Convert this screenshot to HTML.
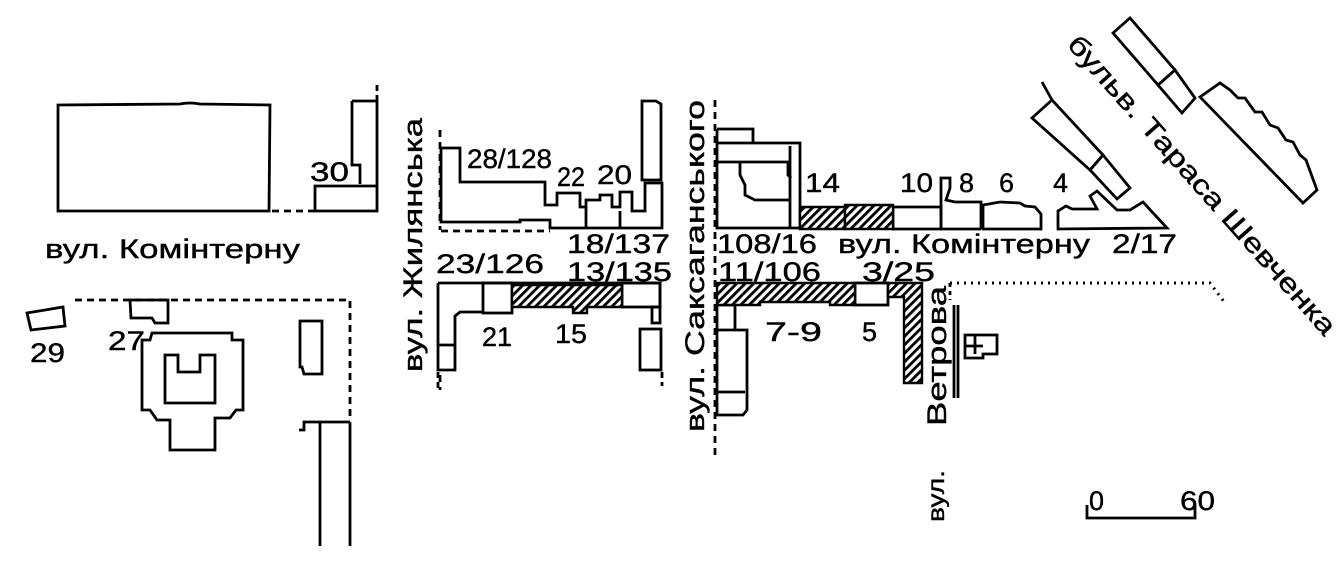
<!DOCTYPE html>
<html><head><meta charset="utf-8"><style>
html,body{margin:0;padding:0;background:#fff;}
svg{display:block;}
text{font-family:"Liberation Sans","DejaVu Sans",sans-serif;fill:#000;stroke:#000;stroke-width:0.4;}
</style></head><body>
<svg width="1341" height="566" viewBox="0 0 1341 566" xmlns="http://www.w3.org/2000/svg">
<defs>
<pattern id="h" patternUnits="userSpaceOnUse" width="6" height="6" patternTransform="rotate(45)">
<rect width="6" height="6" fill="#fff"/><rect width="2.8" height="6" fill="#000"/></pattern>
</defs>
<g fill="none" stroke="#000" stroke-width="2.8" stroke-linejoin="miter">
<path d="M58,105 L180,104 Q190,102 200,104 L270,105 L269,211 L58,211 Z"/>
<path d="M272,211 H315" stroke-dasharray="7,5"/>
<path d="M352,101 H377 V211 H315 V186 H377 M352,101 V165 H360 V184"/>
<path d="M377,85 V100" stroke-dasharray="6,4"/>
<path d="M75,300 H350 V420" stroke-dasharray="7,5"/>
<path d="M27,313 L63,307 L65,326 L31,330 Z"/>
<path d="M130,300 H168 V323 H155 L152,318 H131 Z"/>
<path d="M152,333 H232 V340 H243 V410 H236 L230,418 H215 V450 H170 V420 H157 L150,410 H142 V340 H150 Z"/>
<path d="M165,355 H178 V372 H200 V355 H215 V403 H165 Z"/>
<path d="M300,321 H322 V374 H304 L302,367 H300 Z"/>
<path d="M299,430 H304 V422 H350 M320,422 V546 M350,422 V546"/>
<path d="M440,130 V230 M440,375 V390" stroke-dasharray="7,5"/>
<path d="M441,148 H460 V182 H545 V205 H557 V193 H580 V207 H586 V200 H600 V195 H612 V207 H620 V192 H632 V211 H645 V183 H662 V228 H550 V220 H520 V222 H441 Z"/>
<path d="M586,207 V228 M620,211 V228"/>
<path d="M441,231 H550" stroke-dasharray="7,5"/>
<path d="M642,101 H656 L661,104 V180 H642 Z"/>
<path d="M438,283 H660 V307 H652"/>
<path d="M438,283 V370 H455 V316 L460,312 H483"/>
<path d="M438,345 H455"/>
<rect x="483" y="283" width="29" height="30"/>
<rect x="622" y="283" width="38" height="24"/>
<rect x="652" y="307" width="8" height="16"/>
<rect x="640" y="329" width="21" height="41"/>
<path d="M438,372 V390 M662,372 V386" stroke-dasharray="6,4"/>
<path d="M715,100 V456" stroke-dasharray="7,5"/>
<path d="M717,129 H753 V143 M717,129 V228 H800 V143 H717"/>
<path d="M790,146 V228"/>
<path d="M717,162 H740 V175 L745,185 V195 L755,200 H790 M740,162 H788 V175 L791,178"/>
<path d="M893,207 V229 H941 V207 Z"/>
<path d="M941,229 V178 H950 V188 L946,200 L955,202 H981 V229 M981,229 H941"/>
<path d="M983,229 V205 L1000,202 L1020,203 L1025,206 L1035,207 L1041,214 V229 Z"/>
<path d="M1058,229 V211 L1066,206 L1072,209 H1097 L1090,196 L1097,191 L1117,210 H1130 L1143,202 L1167,228 Z"/>
<rect x="855" y="283" width="33" height="22"/>
<path d="M717,305 H735 V330 H747 V410 L743,415 H717 Z M735,330 H717 M717,392 H745"/>
<path d="M950,283 V300" stroke-dasharray="4,4"/>
<path d="M950,283 H1210 L1225,303" stroke-dasharray="2,5" stroke-width="3"/>
<path d="M954,305 V398 M958,305 V398"/>
<path d="M965,335 H997 V354 H983 V358 H965 Z M965,346 H983 M975,335 V354"/>
<path d="M1113,33 L1130,18 L1175,70 L1158,85 Z"/>
<path d="M1158,85 L1175,70 L1195,98 L1182,113 Z"/>
<path d="M1200,97 L1220,83 L1230,90 L1238,98 L1245,98 L1255,112 L1262,112 L1270,125 L1278,128 L1286,140 L1293,142 L1300,155 L1306,160 L1317,190 L1303,203 Z"/>
<path d="M1032,118 L1052,100 L1103,155 L1090,170 Z"/>
<path d="M1090,170 L1103,155 L1130,188 L1117,199 Z"/>
<path d="M1042,82 L1052,100"/>
<path d="M1087,505 V518 H1195 V505"/>
</g>
<g stroke="#000" stroke-width="2.4" fill="url(#h)">
<path d="M512,285 H622 V307 H587 V313 H573 V307 H512 Z"/>
<path d="M800,207 H845 V229 H800 Z"/>
<path d="M845,205 H893 V229 H845 Z"/>
<path d="M717,283 H855 V305 H830 V302 H760 V305 H717 Z"/>
<path d="M888,283 H922 V383 H904 V297 H888 Z"/>
</g>
<g font-size="27">
<text x="45" y="258" textLength="255" lengthAdjust="spacingAndGlyphs">вул. Комінтерну</text>
<text x="310" y="181" textLength="39" lengthAdjust="spacingAndGlyphs">30</text>
<text x="30" y="362" textLength="35" lengthAdjust="spacingAndGlyphs">29</text>
<text x="108" y="350" textLength="37" lengthAdjust="spacingAndGlyphs">27</text>
<text x="467" y="168" textLength="85" lengthAdjust="spacingAndGlyphs">28/128</text>
<text x="557" y="186" textLength="28" lengthAdjust="spacingAndGlyphs">22</text>
<text x="597" y="184" textLength="35" lengthAdjust="spacingAndGlyphs">20</text>
<text x="567" y="253" textLength="103" lengthAdjust="spacingAndGlyphs">18/137</text>
<text x="436" y="273" textLength="108" lengthAdjust="spacingAndGlyphs">23/126</text>
<text x="567" y="281" textLength="105" lengthAdjust="spacingAndGlyphs">13/135</text>
<text x="482" y="346" textLength="30" lengthAdjust="spacingAndGlyphs">21</text>
<text x="555" y="343" textLength="32" lengthAdjust="spacingAndGlyphs">15</text>
<text x="805" y="192" textLength="35" lengthAdjust="spacingAndGlyphs">14</text>
<text x="900" y="192" textLength="33" lengthAdjust="spacingAndGlyphs">10</text>
<text x="959" y="192">8</text>
<text x="999" y="192">6</text>
<text x="1053" y="192">4</text>
<text x="717" y="253" textLength="100" lengthAdjust="spacingAndGlyphs">108/16</text>
<text x="838" y="253" textLength="252" lengthAdjust="spacingAndGlyphs">вул. Комінтерну</text>
<text x="1112" y="253" textLength="65" lengthAdjust="spacingAndGlyphs">2/17</text>
<text x="718" y="281" textLength="103" lengthAdjust="spacingAndGlyphs">11/106</text>
<text x="862" y="281" textLength="73" lengthAdjust="spacingAndGlyphs">3/25</text>
<text x="765" y="341" textLength="57" lengthAdjust="spacingAndGlyphs">7-9</text>
<text x="862" y="341">5</text>
<text x="1089" y="510">0</text>
<text x="1180" y="510" textLength="35" lengthAdjust="spacingAndGlyphs">60</text>
<text transform="translate(422,372) rotate(-90)" textLength="254" lengthAdjust="spacingAndGlyphs">вул. Жилянська</text>
<text transform="translate(704,432) rotate(-90)" textLength="332" lengthAdjust="spacingAndGlyphs">вул. Саксаганського</text>
<text transform="translate(946,426) rotate(-90)" textLength="140" lengthAdjust="spacingAndGlyphs">Ветрова</text>
<text transform="translate(944,522) rotate(-90)" font-size="23" textLength="52" lengthAdjust="spacingAndGlyphs">вул.</text>
<text transform="translate(1066,45) rotate(48.5)" textLength="390" lengthAdjust="spacingAndGlyphs">бульв. Тараса Шевченка</text>
</g>
</svg>
</body></html>
